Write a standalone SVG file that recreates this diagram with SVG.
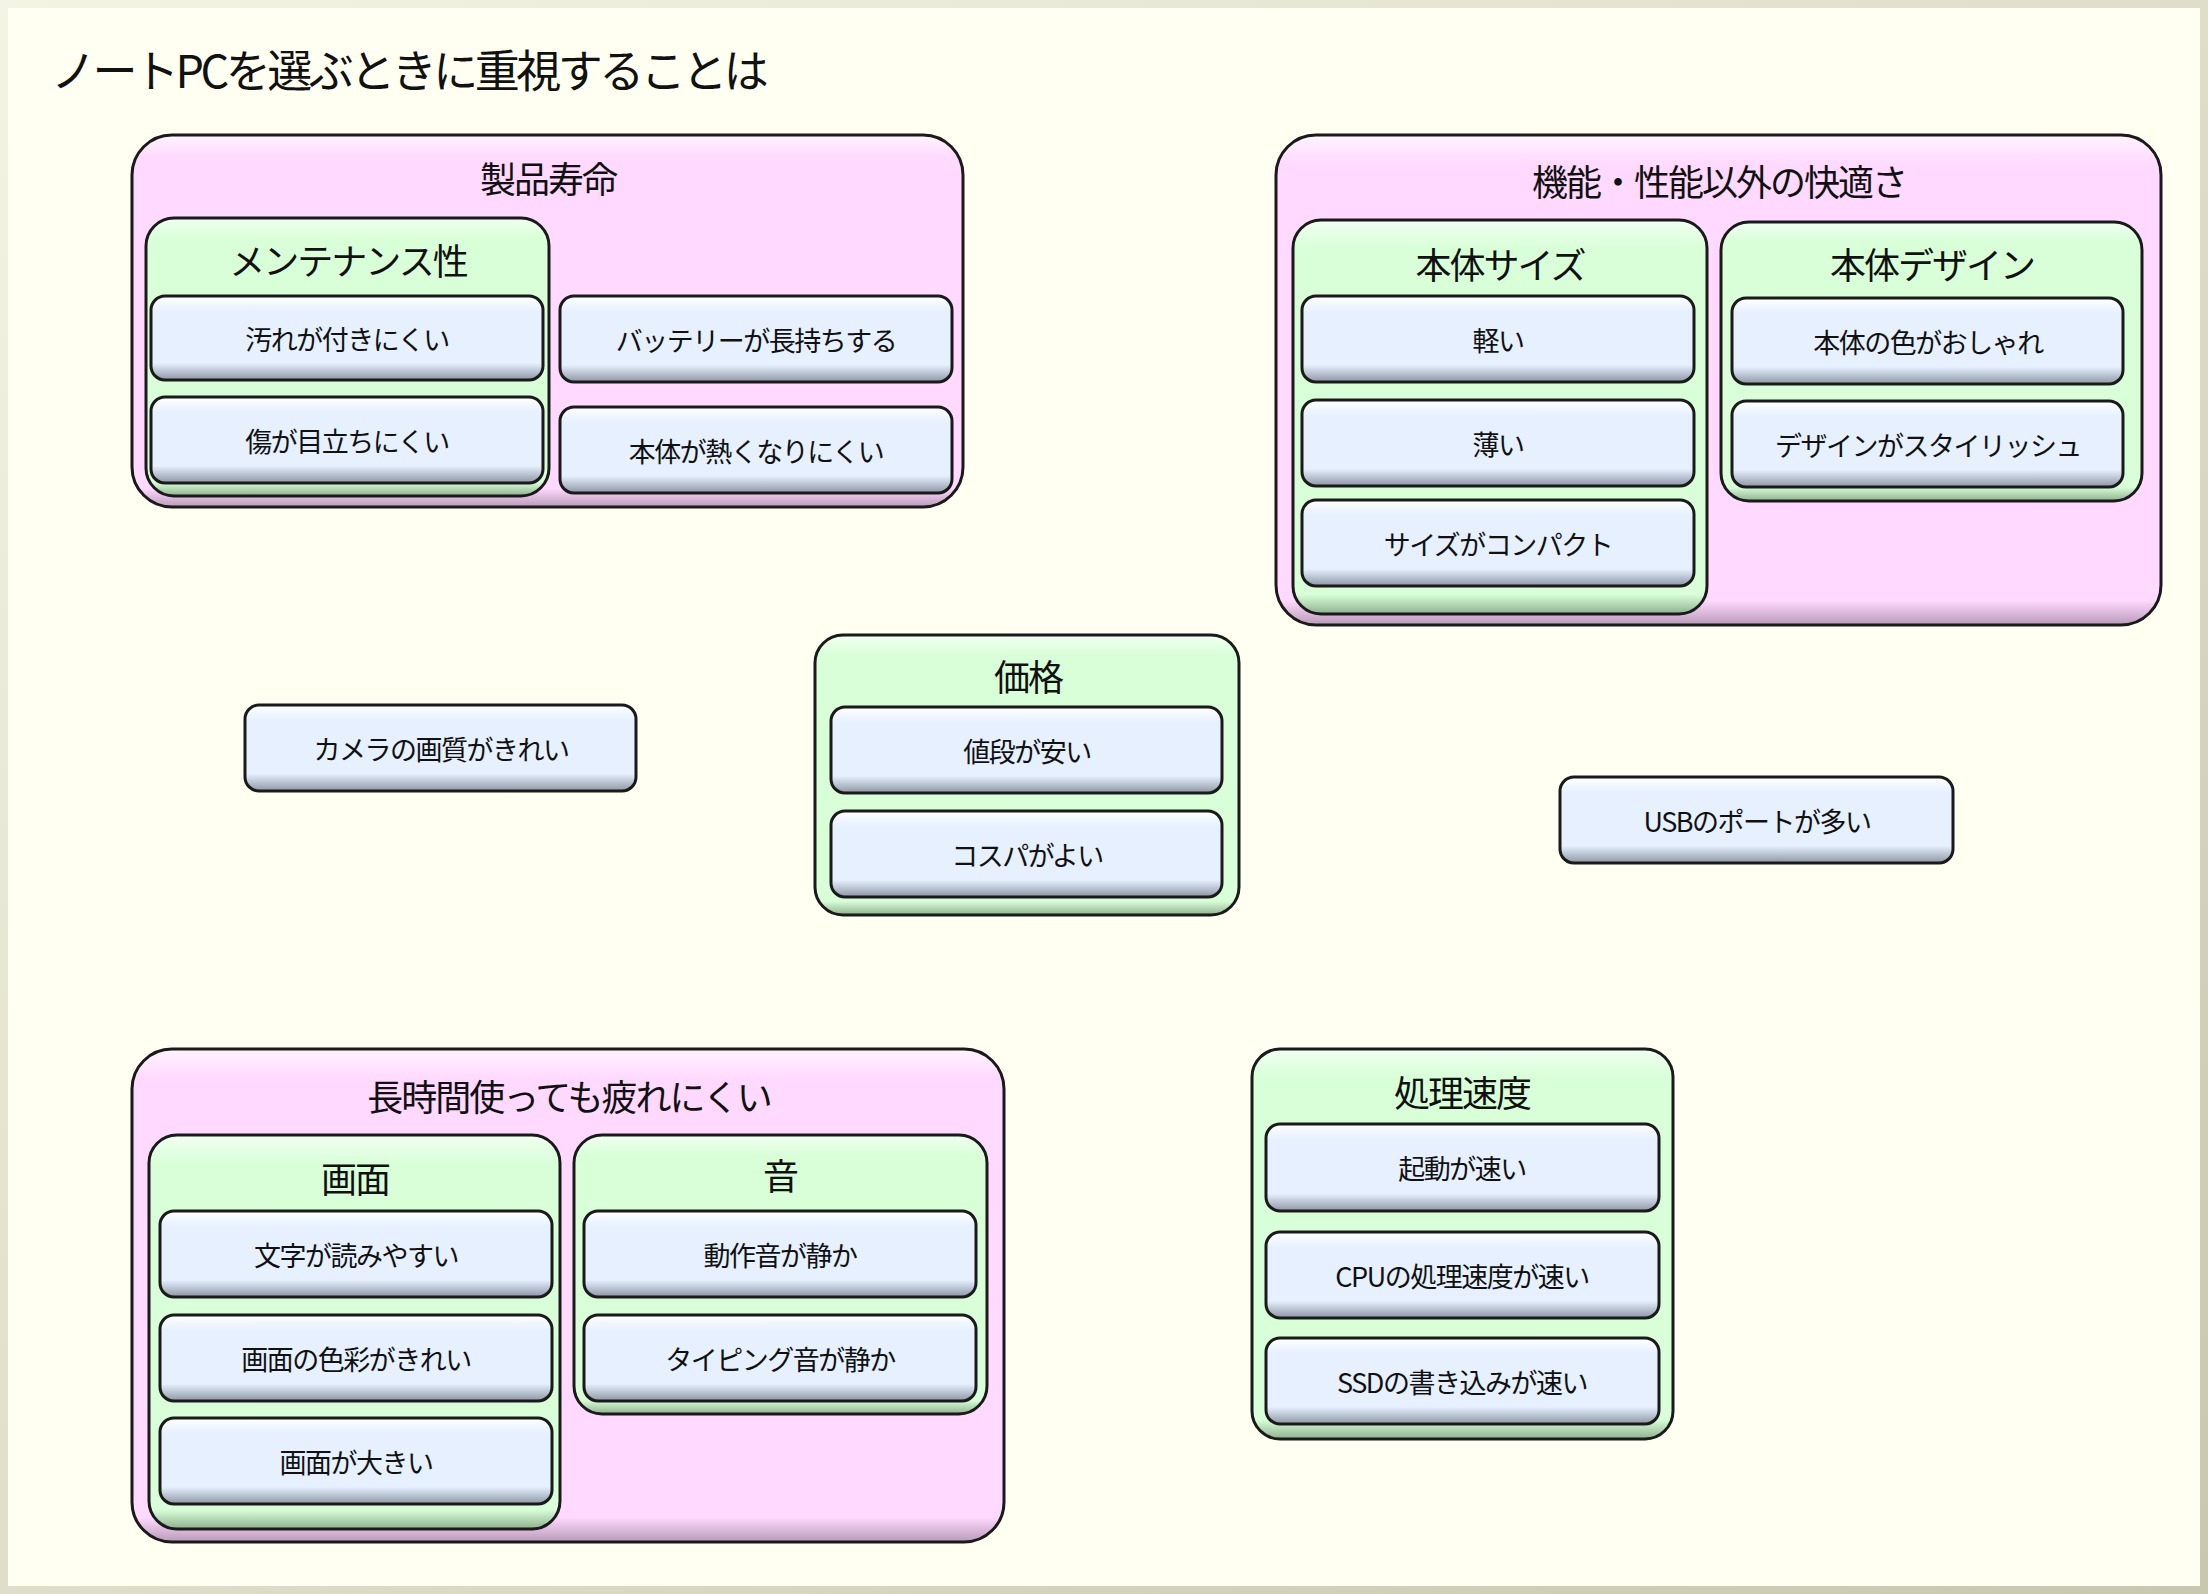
<svg xmlns="http://www.w3.org/2000/svg" width="2208" height="1594" viewBox="0 0 2208 1594">
<defs>
<linearGradient id="gP" x1="0" y1="0" x2="0" y2="1"><stop offset="0" stop-color="#fff4ff"/><stop offset="0.06" stop-color="#ffd9ff"/><stop offset="0.95" stop-color="#ffd9ff"/><stop offset="1" stop-color="#b89ab8"/></linearGradient>
<linearGradient id="gG" x1="0" y1="0" x2="0" y2="1"><stop offset="0" stop-color="#f2fff2"/><stop offset="0.07" stop-color="#d9ffd9"/><stop offset="0.95" stop-color="#d9ffd9"/><stop offset="1" stop-color="#8fb08f"/></linearGradient>
<linearGradient id="gL" x1="0" y1="0" x2="0" y2="1"><stop offset="0" stop-color="#ffffff"/><stop offset="0.18" stop-color="#e6f0ff"/><stop offset="0.8" stop-color="#e6f0ff"/><stop offset="1" stop-color="#8e96a4"/></linearGradient>
<linearGradient id="gF" x1="0" y1="0" x2="1" y2="1"><stop offset="0" stop-color="#f4f4e4"/><stop offset="1" stop-color="#c8c8b0"/></linearGradient>
</defs>
<style>
.p{fill:url(#gP);stroke:#1a1a1a;stroke-width:3}
.g{fill:url(#gG);stroke:#1a1a1a;stroke-width:3}
.l{fill:url(#gL);stroke:#1a1a1a;stroke-width:3}
text{font-family:"Noto Sans CJK JP","Noto Sans",sans-serif;fill:#111;text-anchor:middle;dominant-baseline:central}
.t{font-size:36px;letter-spacing:-2px}
.s{font-size:27px;letter-spacing:-1.5px}
</style>
<rect x="0" y="0" width="2208" height="1594" fill="url(#gF)"/>
<rect x="8" y="8" width="2192" height="1578" fill="#fffff2"/>
<text x="51" y="68" style="font-size:45px;letter-spacing:-3.5px;text-anchor:start">ノートPCを選ぶときに重視することは</text>
<g id="connectors"/>
<g id="seihin">
<rect class="p" x="132" y="135" width="831" height="372" rx="40"/>
<text class="t" x="548" y="177">製品寿命</text>
</g>
<g id="maintenance">
<rect class="g" x="146" y="218" width="403" height="278" rx="28"/>
<text class="t" x="348" y="259">メンテナンス性</text>
</g>
<g id="n1"><rect class="l" x="151" y="296" width="392" height="84" rx="14"/><text class="s" x="347" y="338">汚れが付きにくい</text></g>
<g id="n2"><rect class="l" x="151" y="397" width="392" height="86" rx="14"/><text class="s" x="347" y="440">傷が目立ちにくい</text></g>
<g id="n3"><rect class="l" x="560" y="296" width="392" height="86" rx="14"/><text class="s" x="756" y="339">バッテリーが長持ちする</text></g>
<g id="n4"><rect class="l" x="560" y="407" width="392" height="86" rx="14"/><text class="s" x="756" y="450">本体が熱くなりにくい</text></g>

<g id="kaiteki">
<rect class="p" x="1276" y="135" width="885" height="490" rx="40"/>
<text class="t" x="1719" y="180">機能・性能以外の快適さ</text>
</g>
<g id="size">
<rect class="g" x="1293" y="220" width="414" height="394" rx="28"/>
<text class="t" x="1500" y="263">本体サイズ</text>
</g>
<g id="n5"><rect class="l" x="1302" y="296" width="392" height="86" rx="14"/><text class="s" x="1498" y="339">軽い</text></g>
<g id="n6"><rect class="l" x="1302" y="400" width="392" height="86" rx="14"/><text class="s" x="1498" y="443">薄い</text></g>
<g id="n7"><rect class="l" x="1302" y="500" width="392" height="86" rx="14"/><text class="s" x="1498" y="543">サイズがコンパクト</text></g>
<g id="design">
<rect class="g" x="1721" y="222" width="421" height="279" rx="28"/>
<text class="t" x="1932" y="263">本体デザイン</text>
</g>
<g id="n8"><rect class="l" x="1732" y="298" width="391" height="86" rx="14"/><text class="s" x="1928" y="341">本体の色がおしゃれ</text></g>
<g id="n9"><rect class="l" x="1732" y="401" width="391" height="86" rx="14"/><text class="s" x="1928" y="444">デザインがスタイリッシュ</text></g>

<g id="n10"><rect class="l" x="245" y="705" width="391" height="86" rx="14"/><text class="s" x="441" y="748">カメラの画質がきれい</text></g>

<g id="kakaku">
<rect class="g" x="815" y="635" width="424" height="280" rx="28"/>
<text class="t" x="1028" y="675">価格</text>
</g>
<g id="n11"><rect class="l" x="831" y="707" width="391" height="86" rx="14"/><text class="s" x="1027" y="750">値段が安い</text></g>
<g id="n12"><rect class="l" x="831" y="811" width="391" height="86" rx="14"/><text class="s" x="1027" y="854">コスパがよい</text></g>

<g id="n13"><rect class="l" x="1560" y="777" width="393" height="86" rx="14"/><text class="s" x="1757" y="820">USBのポートが多い</text></g>

<g id="tsukare">
<rect class="p" x="132" y="1049" width="872" height="493" rx="40"/>
<text class="t" x="569" y="1095">長時間使っても疲れにくい</text>
</g>
<g id="gamen">
<rect class="g" x="149" y="1135" width="411" height="394" rx="28"/>
<text class="t" x="355" y="1177">画面</text>
</g>
<g id="n14"><rect class="l" x="160" y="1211" width="392" height="86" rx="14"/><text class="s" x="356" y="1254">文字が読みやすい</text></g>
<g id="n15"><rect class="l" x="160" y="1315" width="392" height="86" rx="14"/><text class="s" x="356" y="1358">画面の色彩がきれい</text></g>
<g id="n16"><rect class="l" x="160" y="1418" width="392" height="86" rx="14"/><text class="s" x="356" y="1461">画面が大きい</text></g>
<g id="oto">
<rect class="g" x="574" y="1135" width="413" height="279" rx="28"/>
<text class="t" x="780" y="1174">音</text>
</g>
<g id="n17"><rect class="l" x="584" y="1211" width="392" height="86" rx="14"/><text class="s" x="780" y="1254">動作音が静か</text></g>
<g id="n18"><rect class="l" x="584" y="1315" width="392" height="86" rx="14"/><text class="s" x="780" y="1358">タイピング音が静か</text></g>

<g id="shori">
<rect class="g" x="1252" y="1049" width="421" height="390" rx="28"/>
<text class="t" x="1462" y="1091">処理速度</text>
</g>
<g id="n19"><rect class="l" x="1266" y="1124" width="393" height="87" rx="14"/><text class="s" x="1462" y="1167">起動が速い</text></g>
<g id="n20"><rect class="l" x="1266" y="1232" width="393" height="86" rx="14"/><text class="s" x="1462" y="1275">CPUの処理速度が速い</text></g>
<g id="n21"><rect class="l" x="1266" y="1338" width="393" height="86" rx="14"/><text class="s" x="1462" y="1381">SSDの書き込みが速い</text></g>
</svg>
